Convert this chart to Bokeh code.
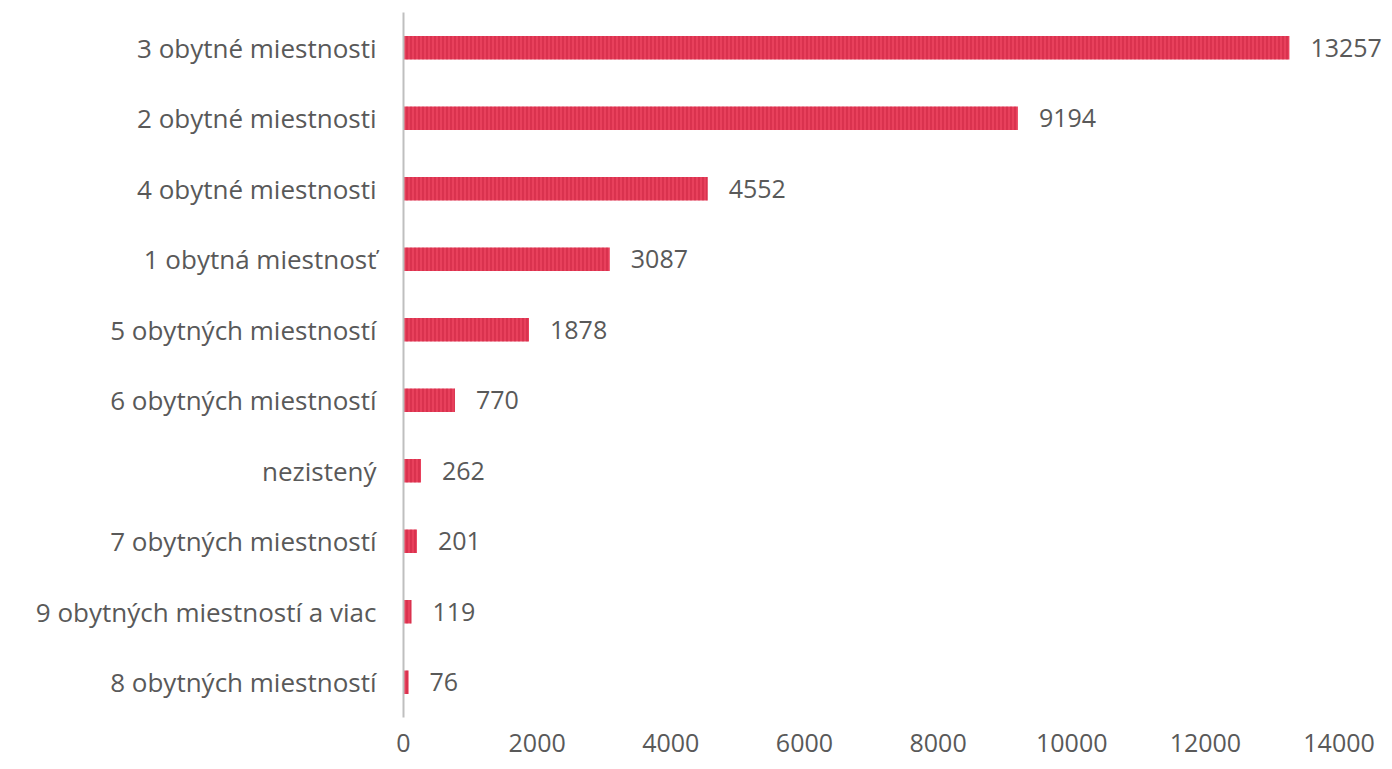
from bokeh.plotting import figure
from bokeh.models import ColumnDataSource, FixedTicker, Range1d, FactorRange
from bokeh.core.properties import value
from bokeh.embed import file_html
from bokeh.resources import INLINE

categories = [
    "3 obytné miestnosti",
    "2 obytné miestnosti",
    "4 obytné miestnosti",
    "1 obytná miestnosť",
    "5 obytných miestností",
    "6 obytných miestností",
    "nezistený",
    "7 obytných miestností",
    "9 obytných miestností a viac",
    "8 obytných miestností",
]
values = [13257, 9194, 4552, 3087, 1878, 770, 262, 201, 119, 76]
x_ticks = [0, 2000, 4000, 6000, 8000, 10000, 12000, 14000]

FONT = "Open Sans"
TXT = "#595959"
FS = "25px"

src = ColumnDataSource(dict(cat=categories, val=values, lab=[str(v) for v in values]))

p = figure(
    width=1384, height=768,
    y_range=FactorRange(*list(reversed(categories)), range_padding=0),
    x_range=Range1d(0, 14680),
    output_backend="svg", toolbar_location=None,
    min_border_left=403, min_border_right=0, min_border_top=12, min_border_bottom=51,
)
p.outline_line_color = None
p.xgrid.grid_line_color = None
p.ygrid.grid_line_color = None
p.background_fill_color = "white"

p.hbar(y="cat", right="val", left=0, height=0.33, source=src,
       fill_color="#E8405C", line_color=None,
       hatch_pattern="|", hatch_color="#B8102E", hatch_scale=4,
       hatch_weight=1.2, hatch_alpha=0.5)

p.text(x="val", y="cat", text="lab", source=src, x_offset=21,
       text_baseline="middle", text_align="left",
       text_font=value(FONT), text_font_size=FS, text_color=TXT)

p.xaxis.ticker = FixedTicker(ticks=x_ticks)
p.xaxis.axis_line_color = None
p.xaxis.major_tick_line_color = None
p.xaxis.minor_tick_line_color = None
p.xaxis.major_tick_out = 0
p.xaxis.major_tick_in = 0
p.xaxis.major_label_standoff = 16
p.xaxis.major_label_text_font = FONT
p.xaxis.major_label_text_font_size = FS
p.xaxis.major_label_text_color = TXT

p.yaxis.axis_line_color = "#BFBFBF"
p.yaxis.axis_line_width = 2
p.yaxis.major_tick_line_color = None
p.yaxis.minor_tick_line_color = None
p.yaxis.major_tick_out = 0
p.yaxis.major_tick_in = 0
p.yaxis.major_label_standoff = 27
p.yaxis.major_label_text_font = FONT
p.yaxis.major_label_text_font_size = "26px"
p.yaxis.major_label_text_color = TXT

open("out.html", "w").write(file_html(p, INLINE))
